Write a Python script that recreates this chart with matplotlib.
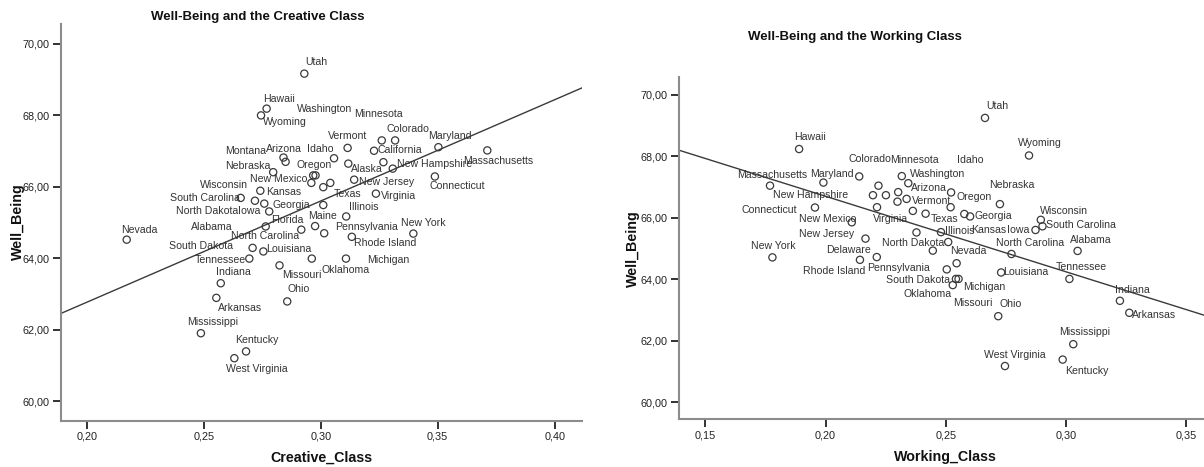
import numpy as np
import matplotlib
matplotlib.use("Agg")
import matplotlib.pyplot as plt

plt.rcParams['font.family'] = ['Liberation Sans', 'DejaVu Sans']

# Well-being index against share of creative-class workers, by state
creative_states = [
    "Utah", "Hawaii", "Wyoming", "Vermont", "Minnesota", "Colorado", "California",
    "Maryland", "Massachusetts", "Arizona", "Montana", "Idaho", "Alaska", "Washington",
    "New Hampshire", "Connecticut", "Nebraska", "New Mexico", "Oregon", "North Dakota",
    "Delaware", "Texas", "New Jersey", "Virginia", "Kansas", "South Carolina", "Wisconsin",
    "Georgia", "Iowa", "Florida", "Illinois", "Alabama", "North Carolina", "Maine",
    "Pennsylvania", "Rhode Island", "New York", "Nevada", "South Dakota", "Louisiana",
    "Tennessee", "Missouri", "Oklahoma", "Michigan", "Indiana", "Arkansas", "Ohio",
    "Mississippi", "Kentucky", "West Virginia",
]
creative_class = [
    0.2930, 0.2769, 0.2745, 0.3115, 0.3261, 0.3318, 0.3228,
    0.3503, 0.3712, 0.2841, 0.2850, 0.3057, 0.3118, 0.3268,
    0.3308, 0.3488, 0.2797, 0.2968, 0.2978, 0.2960,
    0.3011, 0.3041, 0.3143, 0.3236, 0.2742, 0.2658, 0.2719,
    0.2759, 0.2780, 0.3011, 0.3109, 0.2765, 0.2917, 0.2976,
    0.3015, 0.3133, 0.3396, 0.2171, 0.2709, 0.2755,
    0.2695, 0.2824, 0.2962, 0.3108, 0.2573, 0.2554, 0.2857,
    0.2488, 0.2681, 0.2631,
]
creative_wellbeing = [
    69.17, 68.19, 68.00, 67.09, 67.30, 67.30, 67.01,
    67.11, 67.02, 66.82, 66.70, 66.80, 66.65, 66.69,
    66.51, 66.29, 66.41, 66.32, 66.32, 66.11,
    65.99, 66.11, 66.20, 65.81, 65.89, 65.69, 65.61,
    65.53, 65.31, 65.49, 65.17, 64.89, 64.80, 64.90,
    64.70, 64.60, 64.69, 64.52, 64.29, 64.19,
    63.99, 63.80, 63.99, 63.99, 63.30, 62.89, 62.79,
    61.90, 61.39, 61.20,
]

# Well-being index against share of working-class workers, by state
working_states = [
    "Utah", "Hawaii", "Wyoming", "Massachusetts", "Maryland", "Colorado", "Washington",
    "Arizona", "Minnesota", "New Hampshire", "California", "Montana", "Alaska", "Vermont",
    "Virginia", "Florida", "Texas", "Idaho", "Oregon", "Kansas", "Georgia", "Nebraska",
    "Connecticut", "New Mexico", "New Jersey", "New York", "Rhode Island", "Pennsylvania",
    "Delaware", "Illinois", "North Dakota", "Maine", "Nevada", "South Dakota", "Oklahoma",
    "Michigan", "Missouri", "Louisiana", "North Carolina", "Iowa", "Wisconsin",
    "South Carolina", "Alabama", "Tennessee", "Indiana", "Arkansas", "Ohio",
    "Mississippi", "Kentucky", "West Virginia",
]
working_class = [
    0.2663, 0.1890, 0.2846, 0.1769, 0.1991, 0.2140, 0.2317,
    0.2344, 0.2220, 0.2197, 0.2251, 0.2302, 0.2299, 0.2337,
    0.2214, 0.2363, 0.2416, 0.2522, 0.2520, 0.2577, 0.2601, 0.2725,
    0.1956, 0.2109, 0.2166, 0.1779, 0.2143, 0.2213,
    0.2378, 0.2480, 0.2510, 0.2446, 0.2545, 0.2504, 0.2542,
    0.2553, 0.2529, 0.2730, 0.2773, 0.2873, 0.2895,
    0.2902, 0.3048, 0.3014, 0.3224, 0.3263, 0.2718,
    0.3030, 0.2986, 0.2746,
]
working_wellbeing = [
    69.24, 68.23, 68.02, 67.04, 67.14, 67.34, 67.35,
    67.12, 67.04, 66.73, 66.73, 66.83, 66.52, 66.61,
    66.34, 66.22, 66.13, 66.82, 66.34, 66.12, 66.04, 66.44,
    66.33, 65.85, 65.32, 64.71, 64.63, 64.72,
    65.52, 65.53, 65.21, 64.93, 64.52, 64.32, 64.01,
    64.01, 63.81, 64.22, 64.82, 65.60, 65.93,
    65.72, 64.92, 64.01, 63.30, 62.91, 62.80,
    61.89, 61.39, 61.18,
]

wb_ticks = [60, 62, 64, 66, 68, 70]
wb_tick_labels = ["60,00", "62,00", "64,00", "66,00", "68,00", "70,00"]
creative_ticks = [0.20, 0.25, 0.30, 0.35, 0.40]
creative_tick_labels = ["0,20", "0,25", "0,30", "0,35", "0,40"]
working_ticks = [0.15, 0.20, 0.25, 0.30, 0.35]
working_tick_labels = ["0,15", "0,20", "0,25", "0,30", "0,35"]

# where each state name sits relative to its marker (pixels, right / down)
creative_label_pos = {
    "Utah": (1, -12), "Hawaii": (-4, -10), "Wyoming": (2, 7), "Vermont": (-20, -12),
    "Minnesota": (-28, -26), "Colorado": (-9, -11), "California": (3, -1),
    "Maryland": (-10, -11), "Massachusetts": (-24, 11), "Arizona": (-18, -9),
    "Montana": (-60, -11), "Idaho": (-27, -9), "Alaska": (3, 5), "Washington": (-86, -53),
    "New Hampshire": (4, -5), "Connecticut": (-5, 10), "Nebraska": (-48, -6),
    "New Mexico": (-63, 4), "Oregon": (-19, -10), "North Dakota": (-135, 28),
    "Texas": (3, 11), "New Jersey": (5, 2), "Virginia": (5, 2), "Kansas": (6, 1),
    "South Carolina": (-71, 0), "Wisconsin": (-55, -16), "Georgia": (8, 1),
    "Iowa": (-31, 0), "Florida": (-52, 15), "Illinois": (3, -9), "Alabama": (-75, 1),
    "North Carolina": (-70, 6), "Maine": (-7, -10), "Pennsylvania": (11, -6),
    "Rhode Island": (2, 6), "New York": (-12, -11), "Nevada": (-6, -10),
    "South Dakota": (-84, -2), "Louisiana": (3, -2), "Tennessee": (-55, 1),
    "Missouri": (3, 10), "Oklahoma": (10, 11), "Michigan": (21, 1), "Indiana": (-5, -11),
    "Arkansas": (2, 10), "Ohio": (0, -12), "Mississippi": (-14, -11),
    "Kentucky": (-11, -11), "West Virginia": (-8, 11),
}
working_label_pos = {
    "Utah": (1, -12), "Hawaii": (-5, -12), "Wyoming": (-11, -12), "Massachusetts": (-33, -11),
    "Maryland": (-13, -9), "Colorado": (-11, -17), "Washington": (8, -2), "Arizona": (3, 5),
    "Minnesota": (12, -26), "New Hampshire": (-100, 0), "Vermont": (5, 2),
    "Virginia": (-4, 12), "Texas": (5, 5), "Idaho": (6, -32), "Oregon": (6, -10),
    "Kansas": (7, 16), "Georgia": (4, 0), "Nebraska": (-11, -19), "Connecticut": (-73, 2),
    "New Mexico": (-53, -3), "New Jersey": (-66, -5), "New York": (-21, -11),
    "Rhode Island": (-57, 11), "Pennsylvania": (-10, 11), "Delaware": (-90, 18),
    "Illinois": (4, -1), "North Dakota": (-66, 1), "Nevada": (-7, -12),
    "South Dakota": (-61, 11), "Oklahoma": (-52, 15), "Michigan": (5, 8), "Missouri": (0, 18),
    "Louisiana": (2, 0), "North Carolina": (-15, -11), "Iowa": (-29, 0),
    "Wisconsin": (-1, -9), "South Carolina": (4, -1), "Alabama": (-8, -11),
    "Tennessee": (-14, -12), "Indiana": (-5, -11), "Arkansas": (3, 2), "Ohio": (1, -12),
    "Mississippi": (-14, -12), "Kentucky": (2, 11), "West Virginia": (-21, -11),
}

W, H = 1204, 467
fig = plt.figure(figsize=(W / 100, H / 100), dpi=100)


def draw_panel(ax, states, x, y, label_pos, xlim, xticks, xtick_labels):
    """Scatter of labelled states with a least-squares fit line across the axis."""
    ax.scatter(x, y, s=27, facecolors='none', edgecolors='#3a3a3a',
               linewidths=0.9, zorder=3)
    slope, intercept = np.polyfit(x, y, 1)
    xs = np.array(xlim)
    ax.plot(xs, slope * xs + intercept, color='#3a3a3a', lw=1.0, zorder=2)

    for name, xv, yv in zip(states, x, y):
        if name not in label_pos:
            continue
        dx, dy = label_pos[name]
        ax.annotate(name, (xv, yv), xytext=(dx, -dy), textcoords='offset pixels',
                    ha='left', va='center', fontsize=7.6, color='#333333', zorder=4)

    ax.set_xlim(xlim)
    ax.set_ylim(59.45, 70.56)
    ax.set_xticks(xticks)
    ax.set_xticklabels(xtick_labels)
    ax.set_yticks(wb_ticks)
    ax.set_yticklabels(wb_tick_labels)
    ax.tick_params(axis='both', labelsize=7.8, colors='#222222', width=1.3,
                   length=6, pad=2)
    for side in ['top', 'right']:
        ax.spines[side].set_visible(False)
    for side in ['left', 'bottom']:
        ax.spines[side].set_color('#8c8c8c')
        ax.spines[side].set_linewidth(1.5)
    ax.patch.set_alpha(0)


# left panel: creative class
ax1 = fig.add_axes([61 / W, 1 - 420.7 / H, (582 - 61) / W, (420.7 - 24) / H])
draw_panel(ax1, creative_states, creative_class, creative_wellbeing,
           creative_label_pos, (0.18902, 0.41167), creative_ticks, creative_tick_labels)

# right panel: working class
ax2 = fig.add_axes([679 / W, 1 - 419.3 / H, (1204 - 679) / W, (419.3 - 77.3) / H])
draw_panel(ax2, working_states, working_class, working_wellbeing,
           working_label_pos, (0.13906, 0.35736), working_ticks, working_tick_labels)

fig.text(258 / W, 1 - 17 / H, "Well-Being and the Creative Class", ha='center',
         va='center', fontsize=9.5, fontweight='bold', color='#111111')
fig.text(855 / W, 1 - 37 / H, "Well-Being and the Working Class", ha='center',
         va='center', fontsize=9.5, fontweight='bold', color='#111111')

fig.text(321.7 / W, 1 - 457.3 / H, "Creative_Class", ha='center', va='center',
         fontsize=10.3, fontweight='bold', color='#111111')
fig.text(945 / W, 1 - 456.7 / H, "Working_Class", ha='center', va='center',
         fontsize=10.3, fontweight='bold', color='#111111')
fig.text(17.5 / W, 1 - 222 / H, "Well_Being", ha='center', va='center', rotation=90,
         fontsize=10.3, fontweight='bold', color='#111111')
fig.text(633 / W, 1 - 249 / H, "Well_Being", ha='center', va='center', rotation=90,
         fontsize=10.3, fontweight='bold', color='#111111')

fig.savefig("out.png", dpi=100, facecolor='white')
